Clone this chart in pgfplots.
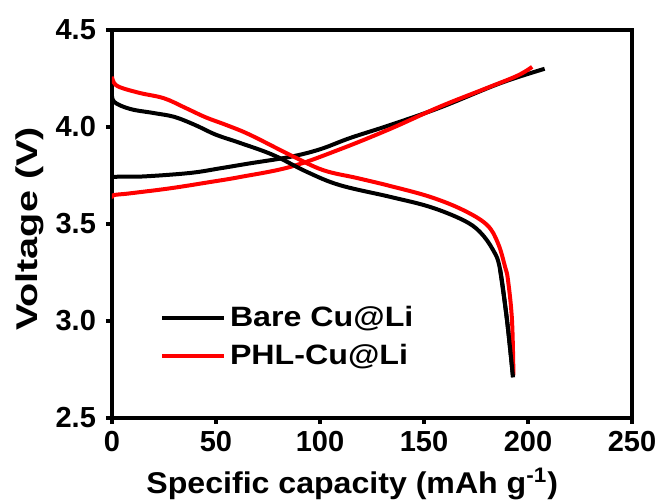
\documentclass[border=0pt]{standalone}
\usepackage{fontspec}
\setmainfont{Liberation Sans}
\newfontfamily\legfont[FakeStretch=1.15]{Liberation Sans}
\newfontfamily\labfont[FakeStretch=1.07]{Liberation Sans}
\newfontfamily\ylabfont[FakeStretch=1.32]{Liberation Sans}
\usepackage{pgfplots}
\pgfplotsset{compat=1.18}
\begin{document}
\begin{tikzpicture}
\begin{axis}[
  scale only axis,
  width=260pt, height=194pt,
  xmin=0, xmax=250, ymin=2.5, ymax=4.5,
  xtick={0,50,...,250}, ytick={2.5,3.0,3.5,4.0,4.5},
  yticklabels={2.5,3.0,3.5,4.0,4.5},
  axis line style={line width=2pt},
  tick style={line width=1.6pt, black},
  tick align=outside, major tick length=3pt,
  xtick pos=left, ytick pos=left,
  /pgf/number format/assume math mode=true,
  tick label style={font=\bfseries\fontsize{14.5}{16}\selectfont},
  xticklabel style={yshift=0pt},
  yticklabel style={xshift=-1.5pt},
  xlabel={\labfont\bfseries\fontsize{15}{17}\selectfont Specific capacity (mAh g\textsuperscript{-1})},
  ylabel={\ylabfont\bfseries\fontsize{15}{17}\selectfont Voltage (V)},
  xlabel style={at={(axis description cs:0.462,-0.17)}, anchor=center},
  ylabel style={at={(axis description cs:-0.158,0.487)}, anchor=center},
  legend style={draw=none, fill=none, at={(0.08,0.31)}, anchor=north west,
    font=\legfont\bfseries\fontsize{14}{16}\selectfont, row sep=3.5pt},
  legend cell align=left,
  legend image code/.code={\draw[#1, line width=2pt] (0pt,0pt) -- (31pt,0pt);},
]
\addplot[black, line width=2pt, smooth, tension=0.6] coordinates {
(0,3.72)(0.6,3.742)(15,3.745)(37.5,3.763)(52,3.787)(66,3.812)(85.6,3.846)(100,3.885)(114.4,3.943)(133.7,4.01)(157.7,4.10)(186.5,4.225)(208,4.30)};
\addlegendentry{Bare Cu@Li}
\addplot[red, line width=2pt, smooth, tension=0.6] coordinates {
(0,3.63)(0.6,3.648)(8.7,3.658)(28,3.684)(47,3.716)(61.5,3.742)(85.6,3.794)(109.6,3.885)(133.7,3.99)(157.7,4.105)(180,4.20)(195,4.265)(202,4.31)};
\addlegendentry{PHL-Cu@Li}
\addplot[black, line width=2pt, smooth, tension=0.6, forget plot] coordinates {
(0,4.18)(1,4.13)(8.7,4.093)(20,4.072)(30,4.052)(40,4.01)(50,3.96)(61.5,3.918)(77.4,3.856)(93.8,3.768)(109.6,3.70)(133.7,3.64)(152.9,3.588)(168.8,3.52)(176.9,3.459)(183.2,3.366)(186.5,3.27)(189.9,3.005)(192.8,2.71)};
\addplot[red, line width=2pt, smooth, tension=0.6, forget plot] coordinates {
(0,4.26)(0.8,4.23)(3.8,4.205)(13.5,4.175)(25,4.148)(35,4.10)(45,4.05)(55,4.01)(66.3,3.96)(85.6,3.856)(101.4,3.778)(117.8,3.737)(133.7,3.696)(152.9,3.64)(168.8,3.572)(180.3,3.495)(185.6,3.40)(189,3.278)(190.4,3.21)(192.3,3.005)(193,2.72)};
\addplot[black, line width=2pt, smooth, tension=0.6, forget plot] coordinates {
(186.5,3.27)(189.9,3.005)(192.8,2.71)};
\end{axis}
\pgfresetboundingbox
\path ([shift={(-56pt,-41pt)}]current axis.south west) rectangle ([shift={(13.5pt,15pt)}]current axis.north east);
\end{tikzpicture}
\end{document}
